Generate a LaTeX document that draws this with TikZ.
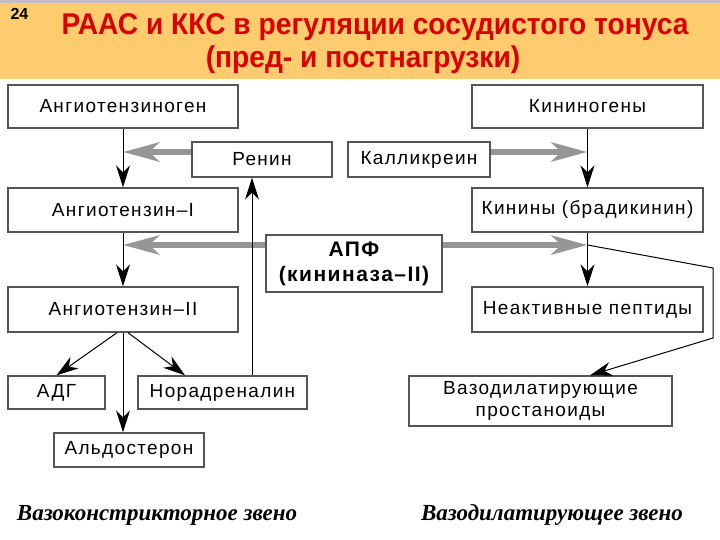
\documentclass[tikz,border=0pt]{standalone}
\usepackage{fontspec}
\setmainfont{Liberation Sans}
\newfontfamily\boxfont[LetterSpace=7]{Liberation Sans}
\newfontfamily\capfont{Liberation Serif}
\usetikzlibrary{arrows.meta}
\definecolor{bandcol}{RGB}{253,204,110}
\definecolor{titlered}{RGB}{218,0,0}
\definecolor{edgegrey}{RGB}{85,85,85}
\definecolor{arrgrey}{RGB}{150,150,150}
\begin{document}
\begin{tikzpicture}[x=1pt,y=-1pt,
  box/.style={draw=edgegrey, line width=1.4pt, fill=white, inner sep=0pt, align=center,
    font=\boxfont\fontsize{19}{22}\selectfont},
  blk/.style={line width=1pt, -{Stealth[length=22pt,width=14pt,inset=7pt]}},
  gry/.style={draw=arrgrey, line width=6.5pt, -{Stealth[length=36pt,width=19pt,inset=10pt]}},
  capt/.style={font=\capfont\bfseries\itshape\fontsize{23}{25}\selectfont},
  ttl/.style={font=\bfseries\fontsize{30}{32}\selectfont, text=titlered, xscale=0.94}
]
\useasboundingbox (0,0) rectangle (720,540);
\fill[white] (0,0) rectangle (720,540);
\fill[bandcol] (0,0) rectangle (720,79);
\fill[black!25] (0,0) rectangle (720,3);
% header
\node[font=\bfseries\fontsize{16}{18}\selectfont, anchor=north west] (num) at (7,5) {24};
\node[ttl] (t1) at (375,27) {РААС и ККС в регуляции сосудистого тонуса};
\node[ttl] (t2) at (363,60) {(пред- и постнагрузки)};
% boxes
\node[box, minimum width=230pt, minimum height=43pt] (angen) at (123,106.5) {Ангиотензиноген};
\node[box, minimum width=140pt, minimum height=35pt] (renin) at (262,159.5) {Ренин};
\node[box, minimum width=142pt, minimum height=35pt] (kall) at (419,159.5) {Калликреин};
\node[box, minimum width=231pt, minimum height=43pt] (kgen) at (587.5,106.5) {Кининогены};
\node[box, minimum width=230pt, minimum height=44pt] (ang1) at (123,210) {Ангиотензин–I};
\node[box, minimum width=231pt, minimum height=44pt] (kin) at (587.5,210) {Кинины (брадикинин)};
\node[box, minimum width=176pt, minimum height=57pt, font=\boxfont\bfseries\fontsize{21}{25}\selectfont] (apf) at (354,263.5) {АПФ\\(кининаза–II)};
\node[box, minimum width=230pt, minimum height=45pt] (ang2) at (123,309.5) {Ангиотензин–II};
\node[box, minimum width=231pt, minimum height=45pt] (inact) at (587.5,309.5) {Неактивные пептиды};
\node[box, minimum width=97pt, minimum height=33pt] (adg) at (56.5,392.5) {АДГ};
\node[box, minimum width=169pt, minimum height=33pt] (norad) at (222.5,392.5) {Норадреналин};
\node[box, minimum width=150pt, minimum height=34pt] (ald) at (129,450) {Альдостерон};
\node[box, minimum width=263pt, minimum height=50pt] (prost) at (540.5,401) {Вазодилатирующие\\простаноиды};
% helper coordinates
\coordinate (g1) at (0,152);
\coordinate (g2) at (0,245);
\coordinate (nx) at (252,0);
\coordinate (r1) at (713,268);
\coordinate (r2) at (713,338);
\coordinate (px) at (590,0);
% grey arrows
\draw[gry] (renin.west |- g1) -- (angen.south |- g1);
\draw[gry] (kall.east |- g1) -- (kgen.south |- g1);
\draw[gry] (apf.west |- g2) -- (ang1.south |- g2);
\draw[gry] (apf.east |- g2) -- (kin.south |- g2);
% black arrows, left
\draw[blk] (angen.south) -- (ang1.north);
\draw[blk] (ang1.south) -- (ang2.north);
\draw[blk] (ang2.south) -- (ang2.south |- ald.north);
\draw[blk] ([xshift=-6pt]ang2.south) -- (adg.north);
\draw[blk] ([xshift=5pt]ang2.south) -- (norad.north -| 185,0);
\draw[blk] (norad.north -| nx) -- (renin.south -| nx);
% black arrows, right
\draw[blk] (kgen.south) -- (kin.north);
\draw[blk] (kin.south) -- (inact.north);
\draw[blk] (kin.south |- g2) -- (r1) -- (r2) -- (prost.north -| px);
% captions
\node[capt] (c1) at (157,515) {Вазоконстрикторное звено};
\node[capt] (c2) at (552,515) {Вазодилатирующее звено};
\end{tikzpicture}
\end{document}
